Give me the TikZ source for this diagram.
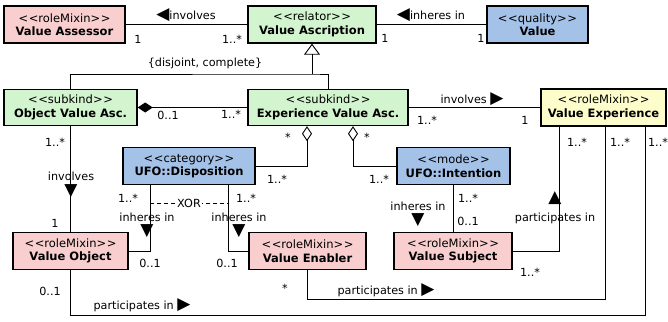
\documentclass[tikz,border=0pt]{standalone}
\usepackage{fontspec}
\setmainfont{DejaVu Sans}
\usetikzlibrary{arrows.meta}
\definecolor{rolepink}{RGB}{248,206,206}
\definecolor{kindgreen}{RGB}{210,244,206}
\definecolor{ufoblue}{RGB}{164,194,232}
\definecolor{expyellow}{RGB}{253,253,204}
\newcommand{\stereo}[1]{<\kern0.6pt<#1>\kern0.6pt>}
\newcommand{\Ltri}{{\fontsize{17}{17}\selectfont ◀}}
\newcommand{\Rtri}{{\fontsize{17}{17}\selectfont ▶}}
\newcommand{\Dtri}{{\fontsize{17}{17}\selectfont ▼}}
\newcommand{\Utri}{{\fontsize{17}{17}\selectfont ▲}}
\tikzset{
  cls/.style={draw, line width=1.4pt, align=center, inner sep=0pt, minimum height=37pt,
    font=\fontsize{11.5}{13.5}\selectfont},
  conn/.style={line width=0.9pt},
  lbl/.style={inner sep=1pt, font=\fontsize{11.2}{13}\selectfont},
  comp/.style={conn, {Diamond[fill=black, length=15pt, width=10pt]}-},
  agg/.style={conn, {Diamond[open, length=15pt, width=10pt]}-},
  gen/.style={conn, -{Triangle[open, length=11pt, width=16pt]}},
}
\begin{document}
\begin{tikzpicture}[x=1pt, y=-1pt]
  \useasboundingbox (0,0) rectangle (668,321);
  \node[cls, fill=rolepink, minimum width=121pt] (assessor) at (64.5,24.5) {\stereo{roleMixin}\\\textbf{Value Assessor}};
  \node[cls, fill=kindgreen, minimum width=128pt] (ascription) at (312,24.5) {\stereo{relator}\\\textbf{Value Ascription}};
  \node[cls, fill=ufoblue, minimum width=101pt] (value) at (537.5,24.5) {\stereo{quality}\\\textbf{Value}};
  \node[cls, fill=kindgreen, minimum width=133pt, minimum height=36pt] (objasc) at (70.5,107.5) {\stereo{subkind}\\\textbf{Object Value Asc.}};
  \node[cls, fill=kindgreen, minimum width=160pt, minimum height=36pt] (expasc) at (328,107.5) {\stereo{subkind}\\\textbf{Experience Value Asc.}};
  \node[cls, fill=expyellow, minimum width=125pt] (valexp) at (603.5,107.5) {\stereo{roleMixin}\\\textbf{Value Experience}};
  \node[cls, fill=ufoblue, minimum width=132pt] (disp) at (189,166) {\stereo{category}\\\textbf{UFO::Disposition}};
  \node[cls, fill=ufoblue, minimum width=113pt] (intent) at (453.5,166) {\stereo{mode}\\\textbf{UFO::Intention}};
  \node[cls, fill=rolepink, minimum width=115pt] (valobj) at (70.5,251) {\stereo{roleMixin}\\\textbf{Value Object}};
  \node[cls, fill=rolepink, minimum width=117pt] (enabler) at (307.5,251) {\stereo{roleMixin}\\\textbf{Value Enabler}};
  \node[cls, fill=rolepink, minimum width=118pt] (subject) at (453,251) {\stereo{roleMixin}\\\textbf{Value Subject}};

  \draw[conn] (assessor) -- (ascription);
  \draw[conn] (ascription) -- (value);
  \coordinate (genbar) at (312,74);
  \draw[conn] (objasc.north) |- (genbar) -| (expasc.north);
  \draw[gen] (genbar) -- (ascription.south);
  \draw[comp] (objasc) -- (expasc);
  \draw[conn] (expasc) -- (valexp);
  \draw[agg] ([xshift=-21pt]expasc.south) |- (disp.east);
  \draw[agg] ([xshift=25pt]expasc.south) |- (intent.west);
  \draw[conn] (objasc) -- (valobj);
  \draw[conn] ([xshift=-39pt]disp.south) |- (valobj.east);
  \draw[conn] ([xshift=39pt]disp.south) |- (enabler.west);
  \draw[conn] (intent.south) -- (intent.south |- subject.north);
  \draw[conn] (subject.east) -| ([xshift=-44pt]valexp.south);
  \coordinate (enbend) at (605,299);
  \draw[conn] (enabler.south) |- (enbend) -- (enbend |- valexp.south);
  \coordinate (objbend) at (645,315);
  \draw[conn] (valobj.south) |- (objbend) -- (objbend |- valexp.south);
  \coordinate (xorl) at (150,203);
  \coordinate (xorr) at (228,203);
  \draw[conn, dash pattern=on 4pt off 3pt] (xorl) -- node[lbl, fill=white] (xor) {XOR} (xorr);

  \node[lbl] (linv1) at (186,15) {\Ltri involves};
  \node[lbl] (linh1) at (431,15) {\Ltri inheres in};
  \node[lbl] (ldisj) at (205,63) {\{disjoint, complete\}};
  \node[lbl] (linv2) at (472,99) {involves \Rtri};
  \node[lbl] (linv3) at (71,176) {involves};
  \node[lbl] (tinv3) at (71,191) {\Dtri};
  \node[lbl] (linh2) at (147,217) {inheres in};
  \node[lbl] (tinh2) at (147,231) {\Dtri};
  \node[lbl] (linh3) at (239,217) {inheres in};
  \node[lbl] (tinh3) at (239,231) {\Dtri};
  \node[lbl] (linh4) at (418,206) {inheres in};
  \node[lbl] (tinh4) at (418,220) {\Dtri};
  \node[lbl] (tpart1) at (555,198) {\Utri};
  \node[lbl] (lpart1) at (555,218) {participates in};
  \node[lbl] (lpart2) at (386,290) {participates in \Rtri};
  \node[lbl] (lpart3) at (142,305) {participates in \Rtri};

  \foreach \x/\y/\t [count=\i] in {138/39/1, 232/39/1..*, 385/38/1, 481/38/1,
      168/115/0..1, 231/114/1..*, 427/120/1..*, 525/120/1,
      577/142/1..*, 620/142/1..*, 658/142/1..*,
      288/137/*, 277/179/1..*, 367/137/*, 379/179/1..*,
      55/142/1..*, 55/223/1, 128/198/1..*, 246/198/1..*,
      150/263/0..1, 227/263/0..1, 468/198/1..*, 468/221/0..1,
      530/272/1..*, 285/288/*, 50/291/0..1}
    \node[lbl] (mult\i) at (\x,\y) {\t};
\end{tikzpicture}
\end{document}
